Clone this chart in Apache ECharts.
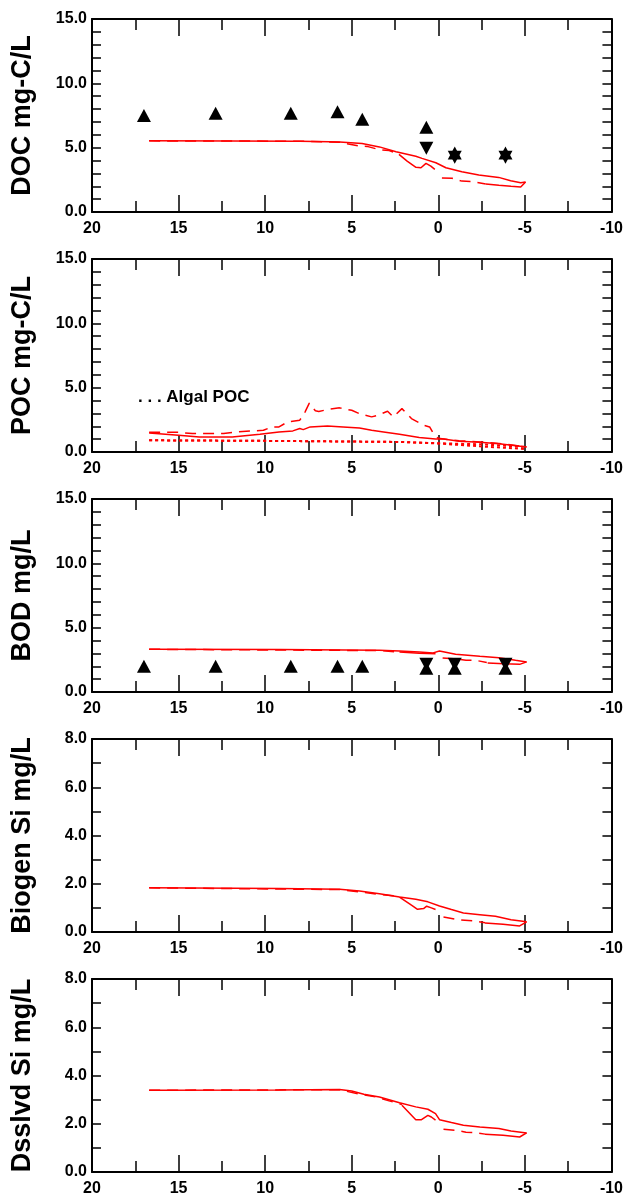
<!DOCTYPE html>
<html>
<head>
<meta charset="utf-8">
<script src="https://cdn.jsdelivr.net/npm/echarts@6/dist/echarts.min.js"></script>
<style>
html,body{margin:0;padding:0;background:#fff;}
#chart{width:626px;height:1201px;}
</style>
</head>
<body>
<div id="chart"></div>
<script>
// ---------- DATA ----------
const xTicks = [20, 15, 10, 5, 0, -5, -10];
const yTitles = ['DOC mg-C/L', 'POC mg-C/L', 'BOD mg/L', 'Biogen Si mg/L', 'Dsslvd Si mg/L'];
const yMaxes = [15, 15, 15, 8, 8];

// DOC
const docUpper = [[16.7,5.53],[12,5.52],[8,5.5],[6.3,5.46],[5.7,5.44],[4.4,5.33],[3.4,5.06],[2.44,4.69],[1.3,4.33],[0.94,4.17],[0.14,3.83],[-0.44,3.44],[-1.36,3.13],[-2.34,2.87],[-3.49,2.69],[-4.18,2.43],[-4.76,2.28],[-5.04,2.33]];
const docLowerDash = [
  [[16.7,5.53],[8,5.5],[5.7,5.42],[4.57,5.13],[4.11,5.1],[3.42,4.85],[2.84,4.78],[2.27,4.5]],
  [[-0.21,2.64],[-0.8,2.62],[-1.36,2.4],[-1.93,2.36],[-2.74,2.18]]
];
const docLowerSolid = [
  [[2.27,4.48],[1.8,3.95],[1.29,3.47],[1.0,3.44],[0.71,3.78],[0.43,3.57],[0.2,3.31]],
  [[-2.74,2.17],[-3.5,2.08],[-4.2,2.0],[-4.76,1.94],[-5.04,2.33]]
];
const docUp = [[17,7.5],[12.86,7.68],[8.52,7.68],[5.82,7.8],[4.39,7.2],[0.69,6.58]];
const docDown = [[0.69,4.95],[-0.95,4.25],[-3.88,4.25]];
const docUpStar = [[-0.95,4.58],[-3.88,4.58]];

// POC
const pocSolid = [[16.7,1.48],[15,1.3],[13.8,1.17],[11.9,1.17],[10.3,1.38],[9.2,1.56],[8.4,1.64],[8.0,1.82],[7.8,1.74],[7.4,1.95],[6.4,2.02],[5.5,1.95],[4.55,1.87],[3.85,1.69],[3.16,1.56],[2.24,1.38],[1.1,1.12],[0.16,1.01],[-0.3,1.01],[-1.2,0.83],[-2.4,0.75],[-3.5,0.65],[-5.1,0.39]];
const pocDash = [[16.7,1.53],[15,1.53],[14.2,1.43],[12.4,1.43],[11.7,1.56],[10.1,1.69],[9.6,1.95],[9.2,1.95],[8.7,2.34],[8.0,2.47],[7.7,3.1],[7.45,3.8],[7.1,3.2],[6.9,3.15],[6.4,3.3],[5.7,3.43],[5.0,3.24],[4.55,2.98],[3.85,2.73],[3.5,2.85],[2.93,3.17],[2.6,2.73],[2.1,3.37],[1.55,2.6],[0.85,2.08],[0.5,1.95],[0.28,1.43],[0,1.06],[-1.2,0.88],[-2.4,0.78],[-3.5,0.67],[-5.1,0.4]];
const algalUpper = [[16.7,0.91],[9.2,0.86],[2.2,0.78],[0,0.68],[-2.4,0.6],[-5.1,0.39]];
const algalLower = [[16.7,0.91],[9.2,0.86],[2.2,0.78],[0,0.66],[-2.4,0.44],[-5.1,0.23]];

// BOD
const bodUpper = [[16.7,3.32],[9.2,3.3],[3.4,3.24],[2.24,3.19],[1.1,3.11],[0.3,3.04],[-0.07,3.19],[-1.0,2.93],[-2.4,2.78],[-3.5,2.67],[-4.46,2.47],[-5.1,2.34]];
const bodLowerDash = [
  [[16.7,3.32],[3.4,3.22],[2.24,3.1]],
  [[-0.25,2.65],[-1.2,2.54],[-1.6,2.47],[-2.2,2.45],[-2.8,2.3]]
];
const bodLowerSolid = [
  [[2.24,3.1],[1.1,3.02],[0.16,2.98]],
  [[-2.85,2.26],[-3.8,2.2],[-4.7,2.15],[-5.1,2.34]]
];
const bodUp = [[17,2.0],[12.86,2.0],[8.52,2.0],[5.82,2.0],[4.39,2.0],[0.69,1.85],[-0.95,1.85],[-3.88,1.85]];
const bodDown = [[0.69,2.15],[-0.95,2.15],[-3.88,2.15]];

// Biogen Si
const bioUpper = [[16.7,1.83],[9.2,1.8],[5.7,1.77],[4.55,1.7],[3.4,1.59],[2.24,1.45],[1.3,1.36],[0.6,1.25],[-0.07,1.08],[-0.76,0.93],[-1.45,0.79],[-2.4,0.72],[-3.3,0.65],[-4.2,0.51],[-5.1,0.42]];
const bioLowerDash = [
  [[16.7,1.83],[5.7,1.76],[4.5,1.66],[3.4,1.56],[2.6,1.5],[2.24,1.45]],
  [[-0.3,0.62],[-1.2,0.5],[-2.2,0.45],[-2.7,0.38]]
];
const bioLowerSolid = [
  [[2.24,1.45],[1.55,1.11],[1.2,0.94],[0.85,0.97],[0.67,1.07],[0.4,1.0],[0.16,0.93]],
  [[-2.7,0.37],[-3.74,0.32],[-4.7,0.25],[-5.1,0.42]]
];

// Dsslvd Si
const dsUpper = [[16.7,3.39],[9.2,3.4],[5.7,3.42],[5.0,3.36],[4.3,3.22],[3.4,3.11],[2.24,2.87],[1.3,2.7],[0.6,2.6],[0.16,2.42],[-0.07,2.17],[-0.76,2.05],[-1.45,1.94],[-2.4,1.87],[-3.5,1.8],[-4.2,1.7],[-5.1,1.62]];
const dsLowerDash = [
  [[16.7,3.39],[5.7,3.41],[4.5,3.22],[3.6,3.11],[3.0,2.98],[2.5,2.88],[2.1,2.8]],
  [[-0.3,1.77],[-1.0,1.73],[-1.6,1.65],[-2.2,1.63],[-2.7,1.57]]
];
const dsLowerSolid = [
  [[2.1,2.77],[1.3,2.17],[0.97,2.17],[0.6,2.35],[0.4,2.28],[0.16,2.15]],
  [[-2.7,1.56],[-3.74,1.52],[-4.7,1.45],[-5.1,1.62]]
];

// ---------- CHART ----------
const FONT = '"Liberation Sans", Arial, sans-serif';
const RED = '#ff0000';
const grids = [], xAxes = [], yAxes = [], series = [];
const TOP0 = 19, STEP = 240, H = 193;

yTitles.forEach((t, k) => {
  grids.push({left: 92, right: 13, top: TOP0 + STEP * k, height: H});
  const xCommon = {
    type: 'value', gridIndex: k, min: -10, max: 20, interval: 5, inverse: true,
    axisLine: {show: true, onZero: false, lineStyle: {color: '#000', width: 2}},
    axisTick: {show: true, inside: true, length: 17, lineStyle: {color: '#000', width: 1.5}},
    minorTick: {show: true, splitNumber: 2, length: 11, lineStyle: {color: '#000', width: 1.5}},
    splitLine: {show: false}, minorSplitLine: {show: false}
  };
  xAxes.push(Object.assign({}, xCommon, {
    position: 'bottom',
    axisLabel: {show: true, color: '#000', fontSize: 16, fontWeight: 'bold', fontFamily: FONT, margin: 9,
      formatter: v => xTicks.includes(v) ? String(v) : ''}
  }));
  xAxes.push(Object.assign({}, xCommon, {position: 'top', axisLabel: {show: false}}));
  const ymax = yMaxes[k];
  const yint = ymax === 15 ? 5 : 2;
  const ysplit = ymax === 15 ? 5 : 2;
  const yCommon = {
    type: 'value', gridIndex: k, min: 0, max: ymax, interval: yint,
    axisLine: {show: true, onZero: false, lineStyle: {color: '#000', width: 2}},
    axisTick: {show: true, inside: true, length: 9, lineStyle: {color: '#000', width: 1.5}},
    minorTick: {show: true, splitNumber: ysplit, length: 9, lineStyle: {color: '#000', width: 1.5}},
    splitLine: {show: false}, minorSplitLine: {show: false}
  };
  yAxes.push(Object.assign({}, yCommon, {
    position: 'left',
    name: t, nameLocation: 'middle', nameGap: 56,
    nameTextStyle: {color: '#000', fontSize: 27, fontWeight: 'bold', fontFamily: FONT},
    axisLabel: {show: true, color: '#000', fontSize: 16, fontWeight: 'bold', fontFamily: FONT, margin: 5,
      padding: [0, 0, 8, 0], formatter: v => v.toFixed(1)}
  }));
  yAxes.push(Object.assign({}, yCommon, {position: 'right', axisLabel: {show: false}}));
});

function line(k, data, type, width) {
  series.push({
    type: 'line', xAxisIndex: 2 * k, yAxisIndex: 2 * k, data: data,
    showSymbol: false, symbol: 'none', silent: true, z: 3,
    lineStyle: {color: RED, width: width || 1.5, type: type || 'solid'}
  });
}
function marks(k, data, down) {
  series.push({
    type: 'scatter', xAxisIndex: 2 * k, yAxisIndex: 2 * k, data: data,
    symbol: 'triangle', symbolSize: [14, 13], symbolRotate: down ? 180 : 0,
    itemStyle: {color: '#000', opacity: 1}, z: 4, silent: true
  });
}
const DASH = [11, 7];

// Panel 0 DOC
line(0, docUpper);
docLowerDash.forEach(s => line(0, s, DASH));
docLowerSolid.forEach(s => line(0, s));
marks(0, docUp); marks(0, docUpStar); marks(0, docDown, true);
// Panel 1 POC
line(1, pocSolid);
line(1, pocDash, DASH);
line(1, algalUpper, [3, 3], 2);
line(1, algalLower, [3, 3], 2);
// Panel 2 BOD
line(2, bodUpper);
bodLowerDash.forEach(s => line(2, s, DASH));
bodLowerSolid.forEach(s => line(2, s));
marks(2, bodUp); marks(2, bodDown, true);
// Panel 3 Biogen Si
line(3, bioUpper);
bioLowerDash.forEach(s => line(3, s, DASH));
bioLowerSolid.forEach(s => line(3, s));
// Panel 4 Dsslvd Si
line(4, dsUpper);
dsLowerDash.forEach(s => line(4, s, DASH));
dsLowerSolid.forEach(s => line(4, s));

const chart = echarts.init(document.getElementById('chart'), null, {renderer: 'canvas'});
chart.setOption({
  animation: false,
  backgroundColor: '#fff',
  grid: grids, xAxis: xAxes, yAxis: yAxes, series: series,
  graphic: [{
    type: 'text', left: 138, top: 389,
    style: {text: '. . . Algal POC', fill: '#000', font: 'bold 17px "Liberation Sans", Arial, sans-serif'}
  }]
});
</script>
</body>
</html>
